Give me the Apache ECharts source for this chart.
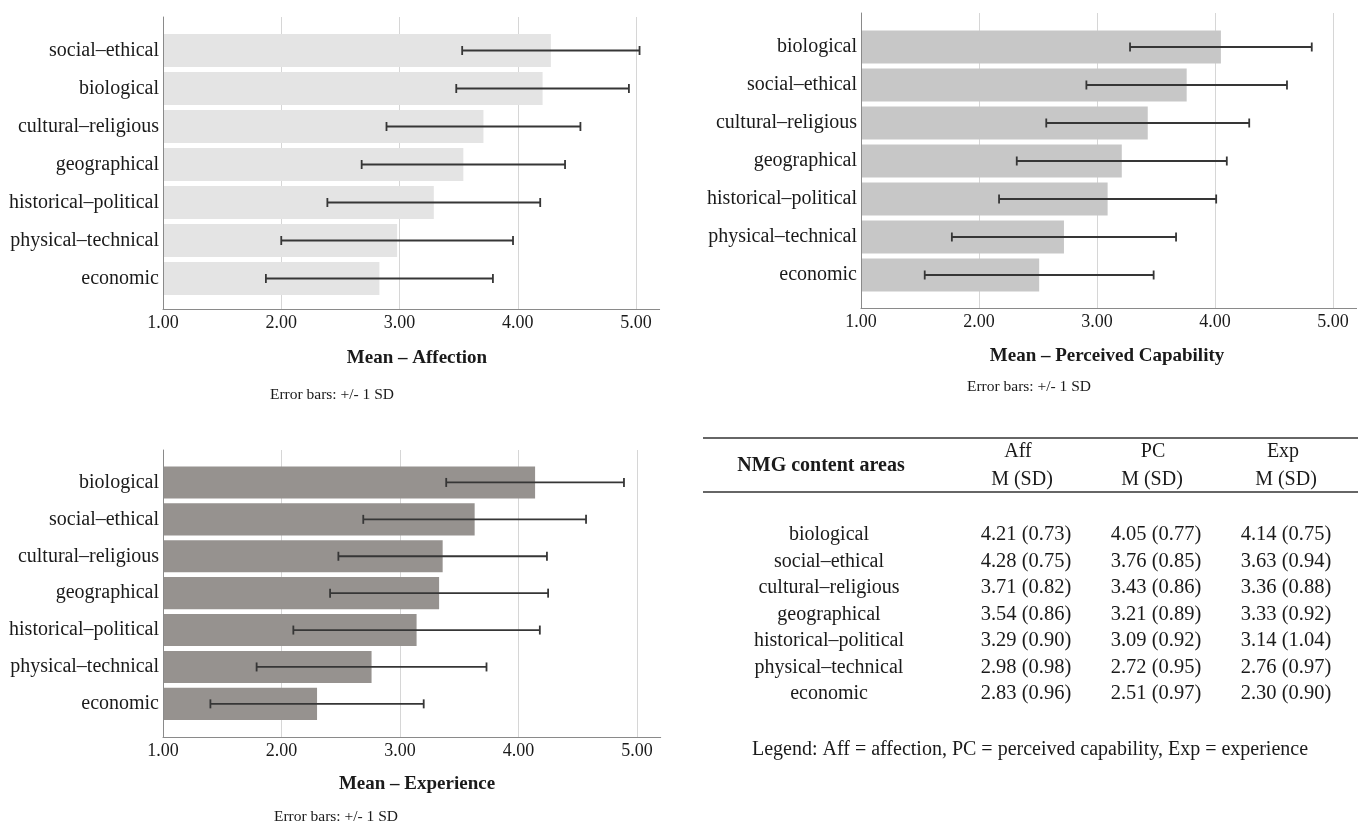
<!DOCTYPE html>
<html><head><meta charset="utf-8">
<script src="https://cdn.jsdelivr.net/npm/echarts@6/dist/echarts.min.js"></script>
<style>html,body{margin:0;padding:0;background:#fff}#c{width:1368px;height:828px}</style>
</head><body><div id="c"></div>
<script>
// ---- data ----
const categories = ['biological','social–ethical','cultural–religious','geographical','historical–political','physical–technical','economic'];
const affMean = [4.21, 4.28, 3.71, 3.54, 3.29, 2.98, 2.83];
const affSD   = [0.73, 0.75, 0.82, 0.86, 0.90, 0.98, 0.96];
const pcMean  = [4.05, 3.76, 3.43, 3.21, 3.09, 2.72, 2.51];
const pcSD    = [0.77, 0.85, 0.86, 0.89, 0.92, 0.95, 0.97];
const expMean = [4.14, 3.63, 3.36, 3.33, 3.14, 2.76, 2.30];
const expSD   = [0.75, 0.94, 0.88, 0.92, 1.04, 0.97, 0.90];
const xTicks  = [1, 2, 3, 4, 5];
const tableHeadTop = ['Aff', 'PC', 'Exp'];
const tableHeadSub = ['M (SD)', 'M (SD)', 'M (SD)'];
const tableFirstHeader = 'NMG content areas';
const noteText = 'Error bars: +/- 1 SD';
const legendText = 'Legend: Aff = affection, PC = perceived capability, Exp = experience';

// ---- layout / style ----
const FONT = '"Liberation Serif", "Times New Roman", serif';
const panels = [
  {mean: affMean, sd: affSD, color: '#e4e4e4', left: 163, ppu: 118.25, top: 17, bottom: 309, bandTop: 31.5, band: 38,
   title: 'Mean – Affection', titleX: 417, titleY: 358, noteX: 332, noteY: 395},
  {mean: pcMean, sd: pcSD, color: '#c7c7c7', left: 861, ppu: 118, top: 13, bottom: 308, bandTop: 28, band: 38,
   title: 'Mean – Perceived Capability', titleX: 1107, titleY: 356, noteX: 1029, noteY: 387},
  {mean: expMean, sd: expSD, color: '#96928f', left: 163, ppu: 118.5, top: 450, bottom: 737, bandTop: 464, band: 36.9,
   title: 'Mean – Experience', titleX: 417, titleY: 784, noteX: 336, noteY: 817}
];
const xMin = xTicks[0], xMaxFrame = 5.2, xMaxGrid = xTicks[xTicks.length - 1];

const grids = [], xAxes = [], yAxes = [], series = [], graphics = [];
const txt = (text, x, y, size, opts = {}) => ({
  type: 'text', x, y, silent: true,
  style: Object.assign({text, font: (opts.bold ? 'bold ' : '') + size + 'px ' + FONT, fill: opts.fill || '#1a1a1a',
    textAlign: opts.align || 'center', textVerticalAlign: 'middle', align: opts.align || 'center', verticalAlign: 'middle'})
});

panels.forEach((p, k) => {
  const order = categories.map((c, i) => i).sort((a, b) => p.mean[b] - p.mean[a]);
  const cats = order.map(i => categories[i]);
  const g0 = k * 3;
  const h = p.bottom - p.top;
  // frame grid (axis lines + labels)
  grids.push({left: p.left, top: p.top, width: (xMaxFrame - xMin) * p.ppu, height: h});
  xAxes.push({gridIndex: g0, type: 'value', min: xMin, max: xMaxFrame, interval: 1,
    axisLine: {show: true, lineStyle: {color: '#8a8a8a', width: 1}}, axisTick: {show: false}, splitLine: {show: false},
    axisLabel: {margin: 5, color: '#1a1a1a', fontFamily: FONT, fontSize: 18,
      formatter: v => (xTicks.indexOf(v) >= 0 ? v.toFixed(2) : '')}, z: 5});
  yAxes.push({gridIndex: g0, type: 'value', min: 0, max: 1, axisLine: {show: true, lineStyle: {color: '#8a8a8a', width: 1}},
    axisTick: {show: false}, axisLabel: {show: false}, splitLine: {show: false}, z: 5});
  // gridline grid
  grids.push({left: p.left, top: p.top, width: (xMaxGrid - xMin) * p.ppu, height: h});
  xAxes.push({gridIndex: g0 + 1, type: 'value', min: xMin, max: xMaxGrid, interval: 1,
    axisLine: {show: false}, axisTick: {show: false}, axisLabel: {show: false},
    splitLine: {show: true, lineStyle: {color: '#d6d6d6', width: 1}}});
  yAxes.push({gridIndex: g0 + 1, type: 'value', min: 0, max: 1, show: false});
  // bar grid
  grids.push({left: p.left, top: p.bandTop, width: (xMaxFrame - xMin) * p.ppu, height: p.band * cats.length});
  xAxes.push({gridIndex: g0 + 2, type: 'value', min: xMin, max: xMaxFrame, show: false});
  yAxes.push({gridIndex: g0 + 2, type: 'category', data: cats, inverse: true,
    axisLine: {show: false}, axisTick: {show: false}, splitLine: {show: false},
    axisLabel: {margin: 4, color: '#1a1a1a', fontFamily: FONT, fontSize: 20}});

  series.push({type: 'custom', xAxisIndex: g0 + 2, yAxisIndex: g0 + 2, z: 2,
    data: order.map((i, r) => [p.mean[i], r]), encode: {x: 0, y: 1},
    renderItem: (params, api) => {
      const s = api.coord([xMin, api.value(1)]);
      const e = api.coord([api.value(0), api.value(1)]);
      const bh = api.size([0, 1])[1] * 0.87;
      return {type: 'rect', shape: {x: s[0], y: s[1] - bh / 2, width: e[0] - s[0], height: bh}, style: {fill: p.color}};
    }});
  series.push({type: 'custom', xAxisIndex: g0 + 2, yAxisIndex: g0 + 2, z: 3,
    data: order.map((i, r) => [p.mean[i] - p.sd[i], p.mean[i] + p.sd[i], r]), encode: {x: [0, 1], y: 2},
    renderItem: (params, api) => {
      const a = api.coord([api.value(0), api.value(2)]);
      const b = api.coord([api.value(1), api.value(2)]);
      const c = 4.5, st = {stroke: '#363636', lineWidth: 1.8};
      return {type: 'group', children: [
        {type: 'line', shape: {x1: a[0], y1: a[1], x2: b[0], y2: b[1]}, style: st},
        {type: 'line', shape: {x1: a[0], y1: a[1] - c, x2: a[0], y2: a[1] + c}, style: st},
        {type: 'line', shape: {x1: b[0], y1: b[1] - c, x2: b[0], y2: b[1] + c}, style: st}
      ]};
    }});

  graphics.push(txt(p.title, p.titleX, p.titleY, 19, {bold: true}));
  graphics.push(txt(noteText, p.noteX, p.noteY, 15.5));
});

// ---- table ----
const T = {x1: 703, x2: 1358, rule1: 438, rule2: 492, labelX: 829, colX: [1026, 1156, 1286],
  headTopX: [1018, 1153, 1283], headSubX: [1022, 1152, 1286], headTopY: 452, headSubY: 480,
  firstHeadX: 821, firstHeadY: 466, rowY0: 535, rowStep: 26.5, legendX: 1030, legendY: 750, size: 20};
const lineSt = {stroke: '#333', lineWidth: 1.3};
graphics.push({type: 'line', silent: true, shape: {x1: T.x1, y1: T.rule1, x2: T.x2, y2: T.rule1}, style: lineSt});
graphics.push({type: 'line', silent: true, shape: {x1: T.x1, y1: T.rule2, x2: T.x2, y2: T.rule2}, style: lineSt});
graphics.push(txt(tableFirstHeader, T.firstHeadX, T.firstHeadY, T.size, {bold: true}));
tableHeadTop.forEach((h, j) => {
  graphics.push(txt(h, T.headTopX[j], T.headTopY, T.size));
  graphics.push(txt(tableHeadSub[j], T.headSubX[j], T.headSubY, T.size));
});
const cols = [[affMean, affSD], [pcMean, pcSD], [expMean, expSD]];
categories.forEach((c, i) => {
  const y = T.rowY0 + i * T.rowStep;
  graphics.push(txt(c, T.labelX, y, T.size));
  cols.forEach((col, j) => {
    graphics.push(txt(col[0][i].toFixed(2) + ' (' + col[1][i].toFixed(2) + ')', T.colX[j], y, T.size + 0.5));
  });
});
graphics.push(txt(legendText, T.legendX, T.legendY, T.size));

const chart = echarts.init(document.getElementById('c'), null, {renderer: 'canvas'});
chart.setOption({
  animation: false,
  backgroundColor: '#fff',
  grid: grids, xAxis: xAxes, yAxis: yAxes, series,
  graphic: graphics
});
</script></body></html>
